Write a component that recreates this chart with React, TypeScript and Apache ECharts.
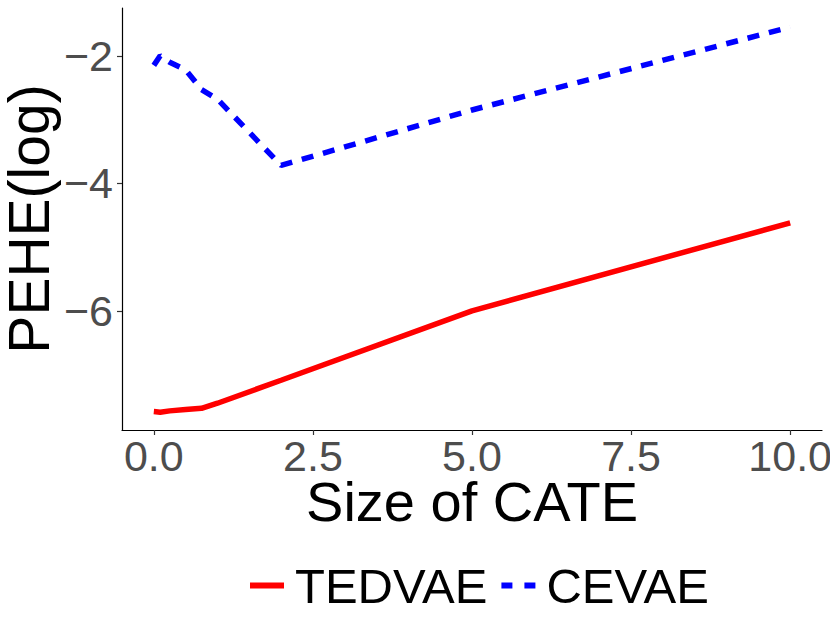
import React, { useEffect, useRef } from "react";
import * as echarts from "echarts";

const xValues = [0, 0.1, 0.25, 0.5, 0.75, 1, 2, 5, 10];
const tedvae = [-7.58, -7.59, -7.57, -7.55, -7.53, -7.45, -7.09, -6.0, -4.62];
const cevae = [-2.15, -2.0, -2.1, -2.22, -2.53, -2.68, -3.72, -2.85, -1.55];
const xTicks = [0, 2.5, 5, 7.5, 10];
const yTicks = [-6, -4, -2];

const FONT = "Liberation Sans, Arial, Helvetica, sans-serif";

export default function App() {
  const ref = useRef<HTMLDivElement>(null);
  useEffect(() => {
    const chart = echarts.init(ref.current!, null, { renderer: "svg" });
    const fmtY = (v: number) => (v < 0 ? "\u2212" : "") + Math.abs(v);
    chart.setOption({
      animation: false,
      backgroundColor: "#ffffff",
      textStyle: { fontFamily: FONT },
      grid: { left: 122, right: 8, top: 8, bottom: 193, containLabel: false, outerBoundsMode: "none" },
      legend: {
        left: 245,
        top: 556,
        itemWidth: 34,
        itemHeight: 6,
        itemGap: 14,
        textStyle: { fontSize: 49, color: "#000", fontFamily: FONT, padding: [0, 0, 0, 6] },
        data: [
          { name: "TEDVAE", icon: "rect", itemStyle: { color: "#FF0000" } },
          {
            name: "CEVAE",
            icon: "path://M0,0h11v6h-11z M23,0h11v6h-11z",
            itemStyle: { color: "#0000FF" },
          },
        ],
      },
      xAxis: {
        type: "value",
        min: -0.5,
        max: 10.5,
        name: "Size of CATE",
        nameLocation: "middle",
        nameGap: 47,
        nameMoveOverlap: false,
        nameTextStyle: { fontSize: 56, color: "#000", fontFamily: FONT, lineHeight: 48 },
        splitLine: { show: false },
        axisLine: { show: true, onZero: false, lineStyle: { color: "#000", width: 1.2 } },
        axisTick: { show: true, length: 5, customValues: xTicks, lineStyle: { color: "#333", width: 1.2 } },
        axisLabel: {
          customValues: xTicks,
          formatter: (v: number) => v.toFixed(1),
          fontSize: 43,
          lineHeight: 34,
          color: "#4D4D4D",
          margin: 9,
          fontFamily: FONT,
        },
      },
      yAxis: {
        type: "value",
        min: -7.87,
        max: -1.25,
        name: "PEHE(log)",
        nameLocation: "middle",
        nameRotate: 90,
        nameGap: 68,
        nameMoveOverlap: false,
        nameTextStyle: { fontSize: 57, color: "#000", fontFamily: FONT, lineHeight: 50 },
        splitLine: { show: false },
        axisLine: { show: true, onZero: false, lineStyle: { color: "#000", width: 1.2 } },
        axisTick: { show: true, length: 5, customValues: yTicks, lineStyle: { color: "#333", width: 1.2 } },
        axisLabel: {
          customValues: yTicks,
          formatter: fmtY,
          fontSize: 43,
          color: "#4D4D4D",
          margin: 9,
          fontFamily: FONT,
        },
      },
      series: [
        {
          name: "TEDVAE",
          type: "line",
          data: xValues.map((x, i) => [x, tedvae[i]]),
          symbol: "none",
          color: "#FF0000",
          lineStyle: { color: "#FF0000", width: 5.5, type: "solid" },
        },
        {
          name: "CEVAE",
          type: "line",
          data: xValues.map((x, i) => [x, cevae[i]]),
          symbol: "none",
          color: "#0000FF",
          lineStyle: { color: "#0000FF", width: 5.5, type: [12, 10] },
        },
      ],
    });
    return () => chart.dispose();
  }, []);
  return (
    <div
      ref={ref}
      style={{ position: "fixed", left: 0, top: 0, width: 830, height: 623 }}
    />
  );
}
